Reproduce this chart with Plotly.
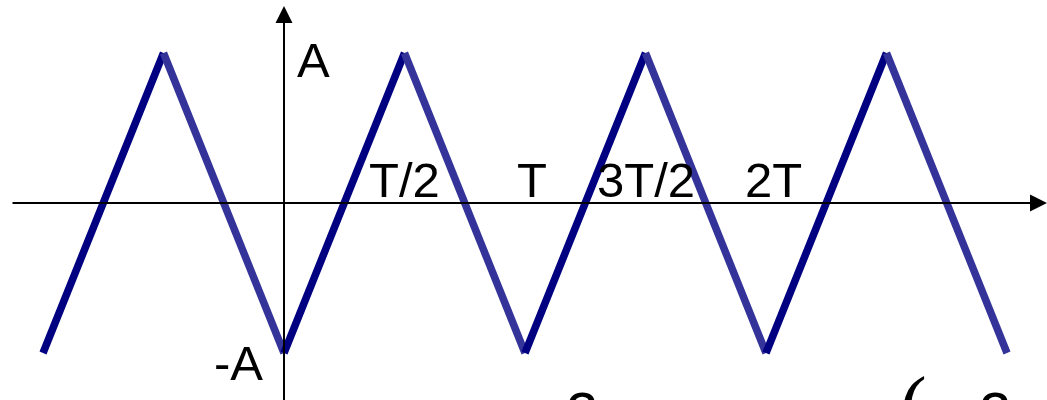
import plotly.graph_objects as go

# Triangle wave vertices (t in units of T, value in units of A)
t_vertices = [-1.0, -0.5, 0.0, 0.5, 1.0, 1.5, 2.0, 2.5, 3.0]
v_vertices = [-1, 1, -1, 1, -1, 1, -1, 1, -1]
rise_color = "#000080"
fall_color = "#333399"

tick_pos = [0.5, 1.0, 1.5, 2.0]
tick_text = ["T/2", "T", "3T/2", "2T"]
tick_x_off = [0.0, 0.03, 0.0, 0.03]

W, H = 1047, 400
x0_px, px_per_T = 284, 241
y0_px, px_per_A = 203, 150
xr = [(0 - x0_px) / px_per_T, (W - x0_px) / px_per_T]
yr = [(y0_px - H) / px_per_A, (y0_px - 0) / px_per_A]

def px2x(p):
    return (p - x0_px) / px_per_T

def px2y(p):
    return (y0_px - p) / px_per_A

fig = go.Figure()
for i in range(len(t_vertices) - 1):
    rising = v_vertices[i + 1] > v_vertices[i]
    fig.add_trace(go.Scatter(
        x=[t_vertices[i], t_vertices[i + 1]],
        y=[v_vertices[i], v_vertices[i + 1]],
        mode="lines",
        line=dict(color=rise_color if rising else fall_color, width=7.5),
        showlegend=False, hoverinfo="skip"))

# axes with arrows
fig.add_annotation(x=px2x(1047), y=0, ax=px2x(11), ay=0, xref="x", yref="y",
                   axref="x", ayref="y", showarrow=True, arrowhead=2,
                   arrowsize=1.7, arrowwidth=2, arrowcolor="black", text="")
fig.add_annotation(x=0, y=px2y(6), ax=0, ay=px2y(402), xref="x", yref="y",
                   axref="x", ayref="y", showarrow=True, arrowhead=2,
                   arrowsize=1.7, arrowwidth=2, arrowcolor="black", text="")

font = dict(family="Liberation Sans, Arial", size=49, color="black")
for p, txt, off in zip(tick_pos, tick_text, tick_x_off):
    fig.add_annotation(x=p + off, y=px2y(180), text=txt, showarrow=False,
                       xanchor="center", yanchor="middle", font=font)
fig.add_annotation(x=px2x(313), y=px2y(60), text="A", showarrow=False,
                   xanchor="center", yanchor="middle", font=font)
fig.add_annotation(x=px2x(238), y=px2y(363), text="-A", showarrow=False,
                   xanchor="center", yanchor="middle", font=font)

# partially visible formula glyphs at the bottom edge
big = dict(family="Liberation Sans, Arial", size=58, color="black")
fig.add_annotation(x=px2x(582), y=px2y(378), text="2", showarrow=False,
                   xanchor="center", yanchor="top", font=big)
fig.add_annotation(x=px2x(913), y=px2y(359), text="(", showarrow=False,
                   xanchor="center", yanchor="top",
                   font=dict(family="Liberation Serif", size=80, color="black"))
fig.add_annotation(x=px2x(995), y=px2y(378), text="2", showarrow=False,
                   xanchor="center", yanchor="top", font=big)

fig.update_layout(
    width=W, height=H, margin=dict(l=0, r=0, t=0, b=0),
    paper_bgcolor="white", plot_bgcolor="white",
    xaxis=dict(range=xr, visible=False, fixedrange=True),
    yaxis=dict(range=yr, visible=False, fixedrange=True),
)
fig.write_html("out.html", config={"displayModeBar": False})

# remove the browser's default page margin so the figure fills the window
with open("out.html", encoding="utf-8") as f:
    html = f.read()
html = html.replace("<head>", "<head><style>html,body{margin:0;padding:0;overflow:hidden}</style>", 1)
with open("out.html", "w", encoding="utf-8") as f:
    f.write(html)
